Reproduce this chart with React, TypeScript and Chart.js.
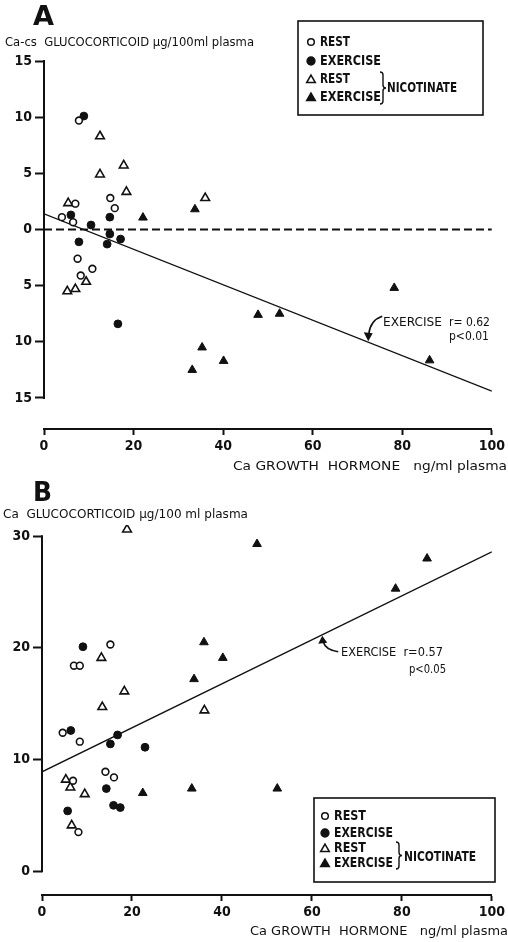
import React, { useEffect, useRef } from "react";
import { Chart, registerables } from "chart.js";
Chart.register(...registerables);

// ---------- Panel A data (Ca-cs glucocorticoid vs Ca growth hormone) ----------
const A_REST_X = [4.0, 7.0, 6.5, 14.8, 15.8, 7.5, 10.8, 8.2, 7.8];
const A_REST_Y = [1.1, 2.3, 0.65, 2.8, 1.9, -2.6, -3.5, -4.1, 9.7];
const A_EX_X = [6.0, 10.5, 14.7, 14.7, 14.1, 17.1, 7.8, 16.5, 8.9];
const A_EX_Y = [1.3, 0.4, 1.1, -0.4, -1.3, -0.85, -1.1, -8.4, 10.1];
const A_NREST_X = [12.5, 12.5, 17.8, 18.4, 5.4, 5.2, 7.0, 9.4, 36.0];
const A_NREST_Y = [8.3, 4.9, 5.7, 3.35, 2.35, -5.5, -5.3, -4.65, 2.8];
const A_NEX_X = [22.1, 33.7, 35.3, 33.1, 40.1, 47.8, 52.6, 78.2, 86.1];
const A_NEX_Y = [1.06, 1.8, -10.5, -12.5, -11.7, -7.6, -7.5, -5.2, -11.65];
const A_REG_X = [0, 100];
const A_REG_Y = [1.4, -14.4];
const A_ZERO_X = [0, 100];
const A_ZERO_Y = [0, 0];
const A_Y_TICKS = [-15, -10, -5, 0, 5, 10, 15];

// ---------- Panel B data (Ca glucocorticoid vs Ca growth hormone) ----------
const B_REST_X = [7.1, 8.4, 4.6, 8.4, 14.1, 16.0, 6.9, 8.1, 15.2];
const B_REST_Y = [18.4, 18.4, 12.4, 11.6, 8.9, 8.4, 8.1, 3.5, 20.3];
const B_EX_X = [9.1, 6.4, 16.8, 15.2, 22.9, 14.3, 15.9, 17.4, 5.7];
const B_EX_Y = [20.1, 12.6, 12.2, 11.4, 11.1, 7.4, 5.9, 5.7, 5.4];
const B_NREST_X = [18.9, 13.2, 18.3, 13.4, 5.3, 6.3, 9.5, 6.6, 36.1];
const B_NREST_Y = [30.6, 19.1, 16.1, 14.7, 8.2, 7.5, 6.9, 4.1, 14.4];
const B_NEX_X = [36.0, 40.2, 33.8, 22.4, 33.3, 47.8, 85.6, 78.6, 52.3];
const B_NEX_Y = [20.5, 19.1, 17.2, 7.0, 7.4, 29.3, 28.0, 25.3, 7.4];
const B_REG_X = [0, 100];
const B_REG_Y = [8.9, 28.6];
const B_Y_TICKS = [0, 10, 20, 30];

const X_TICKS = [0, 20, 40, 60, 80, 100];

// ---------- texts ----------
const A_LETTER = "A";
const B_LETTER = "B";
const A_Y_TITLE = "Ca-cs  GLUCOCORTICOID μg/100ml plasma";
const B_Y_TITLE = "Ca  GLUCOCORTICOID μg/100 ml plasma";
const X_TITLE = "Ca GROWTH  HORMONE   ng/ml plasma";
const LEG_REST = "REST";
const LEG_EX = "EXERCISE";
const LEG_NIC = "NICOTINATE";
const A_NOTE = ["EXERCISE", "r= 0.62", "p<0.01"];
const B_NOTE = ["EXERCISE  r=0.57", "p<0.05"];
const A_ARROW_X = 72.4;
const B_ARROW_X = 62.3;

const INK = "#111";
const COND = "'DejaVu Sans Condensed', 'Liberation Sans Narrow', 'DejaVu Sans', sans-serif";
const REG = "'DejaVu Sans', 'Liberation Sans', sans-serif";

const pts = (xs: number[], ys: number[]) => xs.map((x, i) => ({ x, y: ys[i] }));
const lineAt = (xs: number[], ys: number[], x: number) =>
  ys[0] + ((ys[1] - ys[0]) * (x - xs[0])) / (xs[1] - xs[0]);

function txt(ctx: CanvasRenderingContext2D, s: string, x: number, y: number, font: string, w?: number, align: "left" | "right" = "left") {
  ctx.save();
  ctx.font = font;
  ctx.textBaseline = "middle";
  ctx.textAlign = "left";
  ctx.fillStyle = INK;
  const m = ctx.measureText(s).width;
  const sx = w ? w / m : 1;
  const left = align === "right" ? x - m * sx : x;
  ctx.translate(left, y);
  ctx.scale(sx, 1);
  ctx.fillText(s, 0, 0);
  ctx.restore();
}

function marker(ctx: CanvasRenderingContext2D, kind: string, x: number, y: number) {
  ctx.save();
  ctx.lineWidth = 1.5;
  ctx.strokeStyle = INK;
  ctx.fillStyle = kind.startsWith("o") ? "#fff" : INK;
  ctx.beginPath();
  if (kind.endsWith("c")) {
    ctx.arc(x, y, kind === "oc" ? 3.3 : 3.9, 0, Math.PI * 2);
  } else {
    const r = 5;
    for (let i = 0; i < 3; i++) {
      const a = (i * 2 * Math.PI) / 3;
      const px = x + Math.sin(a) * r;
      const py = y - Math.cos(a) * r + 1;
      if (i === 0) ctx.moveTo(px, py);
      else ctx.lineTo(px, py);
    }
    ctx.closePath();
  }
  ctx.fill();
  ctx.stroke();
  ctx.restore();
}

type Leg = {
  box: number[];
  symX: number;
  textX: number;
  rows: number[];
  restW: number;
  exW: number;
  brX: number;
  brY: number[];
  nicX: number;
  nicY: number;
  nicW: number;
};

function legend(ctx: CanvasRenderingContext2D, L: Leg) {
  ctx.save();
  ctx.strokeStyle = INK;
  ctx.lineWidth = 1.6;
  ctx.strokeRect(L.box[0], L.box[1], L.box[2] - L.box[0], L.box[3] - L.box[1]);
  const kinds = ["oc", "fc", "ot", "ft"];
  const labels = [LEG_REST, LEG_EX, LEG_REST, LEG_EX];
  const f = `bold 14px ${COND}`;
  kinds.forEach((k, i) => {
    marker(ctx, k, L.symX, L.rows[i]);
    txt(ctx, labels[i], L.textX, L.rows[i], f, i % 2 === 0 ? L.restW : L.exW);
  });
  // bracket
  const [y0, y1] = L.brY;
  const mid = (y0 + y1) / 2;
  const bx = L.brX;
  ctx.lineWidth = 1.4;
  ctx.beginPath();
  ctx.moveTo(bx, y0);
  ctx.quadraticCurveTo(bx + 3, y0, bx + 3, y0 + 3);
  ctx.lineTo(bx + 3, mid - 3);
  ctx.quadraticCurveTo(bx + 3, mid, bx + 6, mid);
  ctx.quadraticCurveTo(bx + 3, mid, bx + 3, mid + 3);
  ctx.lineTo(bx + 3, y1 - 3);
  ctx.quadraticCurveTo(bx + 3, y1, bx, y1);
  ctx.stroke();
  txt(ctx, LEG_NIC, L.nicX, L.nicY, f, L.nicW);
  ctx.restore();
}

type Spec = {
  top: number;
  h: number;
  pad: { top: number; right: number; left: number; bottom: number };
  yW: number;
  xH: number;
  yMin: number;
  yMax: number;
  yTicks: number[];
  yLine: number[];
  datasets: any[];
  deco: (ctx: CanvasRenderingContext2D, chart: any) => void;
};

function scatterSet(data: any[], kind: string) {
  const open = kind.startsWith("o");
  const tri = kind.endsWith("t");
  return {
    data,
    showLine: false,
    pointStyle: tri ? "triangle" : "circle",
    pointRadius: tri ? 5 : open ? 3.4 : 3.9,
    pointBackgroundColor: open ? "#fff" : INK,
    pointBorderColor: INK,
    pointBorderWidth: open ? 1.6 : 1,
    order: 1,
  };
}

function lineSet(data: any[], dash: number[] = [], width = 1.3) {
  return {
    data,
    showLine: true,
    pointRadius: 0,
    borderColor: INK,
    borderWidth: width,
    borderDash: dash,
    order: 5,
  };
}

function decoA(ctx: CanvasRenderingContext2D, chart: any) {
  txt(ctx, A_LETTER, 33, 18, `bold 27px ${REG}`, 21);
  txt(ctx, A_Y_TITLE, 5, 43, `13px ${COND}`, 249);
  txt(ctx, X_TITLE, 507, 467, `13px ${REG}`, 274, "right");
  legend(ctx, {
    box: [298, 21, 483, 115],
    symX: 311,
    textX: 320,
    rows: [42, 61, 79, 97],
    restW: 30,
    exW: 61,
    brX: 380,
    brY: [72, 104],
    nicX: 387,
    nicY: 88,
    nicW: 70,
  });
  const xs = chart.scales.x;
  const ys = chart.scales.y;
  const tx = xs.getPixelForValue(A_ARROW_X);
  const ty = ys.getPixelForValue(lineAt(A_REG_X, A_REG_Y, A_ARROW_X));
  ctx.save();
  ctx.strokeStyle = INK;
  ctx.fillStyle = INK;
  ctx.lineWidth = 1.6;
  ctx.beginPath();
  ctx.moveTo(tx + 14, ty - 26);
  ctx.quadraticCurveTo(tx + 2, ty - 22, tx + 0.5, ty - 8);
  ctx.stroke();
  ctx.beginPath();
  ctx.moveTo(tx, ty - 1);
  ctx.lineTo(tx - 4.5, ty - 10);
  ctx.lineTo(tx + 4.5, ty - 9);
  ctx.closePath();
  ctx.fill();
  ctx.restore();
  txt(ctx, A_NOTE[0], 383, 323, `13px ${COND}`, 59);
  txt(ctx, A_NOTE[1], 449, 323, `13px ${COND}`, 41);
  txt(ctx, A_NOTE[2], 449, 337, `13px ${COND}`, 40);
}

function decoB(ctx: CanvasRenderingContext2D, chart: any) {
  txt(ctx, B_LETTER, 33, 14, `bold 27px ${REG}`, 19);
  txt(ctx, B_Y_TITLE, 3, 35, `13px ${COND}`, 245);
  txt(ctx, X_TITLE, 508, 452, `13px ${REG}`, 258, "right");
  legend(ctx, {
    box: [314, 318, 495, 402],
    symX: 325,
    textX: 334,
    rows: [336, 353, 368, 383],
    restW: 32,
    exW: 59,
    brX: 396,
    brY: [362, 389],
    nicX: 404,
    nicY: 377,
    nicW: 72,
  });
  const xs = chart.scales.x;
  const ys = chart.scales.y;
  const tx = xs.getPixelForValue(B_ARROW_X);
  const ty = ys.getPixelForValue(lineAt(B_REG_X, B_REG_Y, B_ARROW_X));
  ctx.save();
  ctx.strokeStyle = INK;
  ctx.fillStyle = INK;
  ctx.lineWidth = 1.6;
  ctx.beginPath();
  ctx.moveTo(tx + 16, ty + 17);
  ctx.quadraticCurveTo(tx + 3, ty + 15, tx + 1, ty + 7);
  ctx.stroke();
  ctx.beginPath();
  ctx.moveTo(tx, ty + 1);
  ctx.lineTo(tx - 4, ty + 9);
  ctx.lineTo(tx + 5, ty + 8);
  ctx.closePath();
  ctx.fill();
  ctx.restore();
  txt(ctx, B_NOTE[0], 341, 173, `13px ${COND}`, 102);
  txt(ctx, B_NOTE[1], 409, 190, `13px ${COND}`, 37);
}

const SPEC_A: Spec = {
  top: 0,
  h: 480,
  pad: { top: 61, right: 15, left: 0, bottom: 0 },
  yW: 44,
  xH: 51,
  yMin: -17.76,
  yMax: 15,
  yTicks: A_Y_TICKS,
  yLine: [15, -15],
  datasets: [
    scatterSet(pts(A_REST_X, A_REST_Y), "oc"),
    scatterSet(pts(A_EX_X, A_EX_Y), "fc"),
    scatterSet(pts(A_NREST_X, A_NREST_Y), "ot"),
    scatterSet(pts(A_NEX_X, A_NEX_Y), "ft"),
    lineSet(pts(A_REG_X, A_REG_Y)),
    lineSet(pts(A_ZERO_X, A_ZERO_Y), [8, 4], 2),
  ],
  deco: decoA,
};

const SPEC_B: Spec = {
  top: 480,
  h: 462,
  pad: { top: 45, right: 13, left: 0, bottom: 0 },
  yW: 42,
  xH: 47,
  yMin: -2.13,
  yMax: 31,
  yTicks: B_Y_TICKS,
  yLine: [30, 0],
  datasets: [
    scatterSet(pts(B_REST_X, B_REST_Y), "oc"),
    scatterSet(pts(B_EX_X, B_EX_Y), "fc"),
    scatterSet(pts(B_NREST_X, B_NREST_Y), "ot"),
    scatterSet(pts(B_NEX_X, B_NEX_Y), "ft"),
    lineSet(pts(B_REG_X, B_REG_Y)),
  ],
  deco: decoB,
};

function Panel({ spec }: { spec: Spec }) {
  const ref = useRef<HTMLCanvasElement>(null);
  useEffect(() => {
    const deco = {
      id: "deco",
      afterDraw(chart: any) {
        const ctx = chart.ctx as CanvasRenderingContext2D;
        const ys = chart.scales.y;
        const x = chart.chartArea.left;
        ctx.save();
        ctx.strokeStyle = INK;
        ctx.lineWidth = 2;
        ctx.beginPath();
        ctx.moveTo(x, ys.getPixelForValue(spec.yLine[0]) - 1);
        ctx.lineTo(x, ys.getPixelForValue(spec.yLine[1]) + 1);
        ctx.stroke();
        ctx.restore();
        spec.deco(ctx, chart);
      },
    };
    const tickFont = { family: COND, size: 14, weight: "bold" as const };
    const chart = new Chart(ref.current as HTMLCanvasElement, {
      type: "scatter",
      data: { datasets: spec.datasets },
      options: {
        animation: false,
        responsive: false,
        devicePixelRatio: 1,
        layout: { padding: spec.pad },
        plugins: { legend: { display: false }, tooltip: { enabled: false } },
        scales: {
          x: {
            type: "linear",
            min: 0,
            max: 100,
            afterBuildTicks: (s: any) => {
              s.ticks = X_TICKS.map((v) => ({ value: v }));
            },
            afterFit: (s: any) => {
              s.height = spec.xH;
            },
            grid: { display: true, drawOnChartArea: false, drawTicks: true, tickLength: 6, tickWidth: 2, tickColor: INK },
            border: { display: true, color: INK, width: 2 },
            ticks: { color: INK, font: tickFont, padding: 3, maxRotation: 0, autoSkip: false },
          },
          y: {
            type: "linear",
            min: spec.yMin,
            max: spec.yMax,
            afterBuildTicks: (s: any) => {
              s.ticks = spec.yTicks.map((v) => ({ value: v }));
            },
            afterFit: (s: any) => {
              s.width = spec.yW;
            },
            grid: { display: true, drawOnChartArea: false, drawTicks: true, tickLength: 9, tickWidth: 2, tickColor: INK },
            border: { display: false },
            ticks: {
              color: INK,
              font: tickFont,
              padding: 3,
              autoSkip: false,
              callback: (v: any) => String(Math.abs(Number(v))),
            },
          },
        },
      },
      plugins: [deco],
    } as any);
    return () => chart.destroy();
  }, [spec]);
  return (
    <canvas
      ref={ref}
      width={508}
      height={spec.h}
      style={{ position: "absolute", left: 0, top: spec.top, width: 508, height: spec.h, display: "block" }}
    />
  );
}

export default function App() {
  return (
    <div style={{ position: "absolute", left: 0, top: 0, width: 508, height: 942, background: "#fff" }}>
      <Panel spec={SPEC_A} />
      <Panel spec={SPEC_B} />
    </div>
  );
}
